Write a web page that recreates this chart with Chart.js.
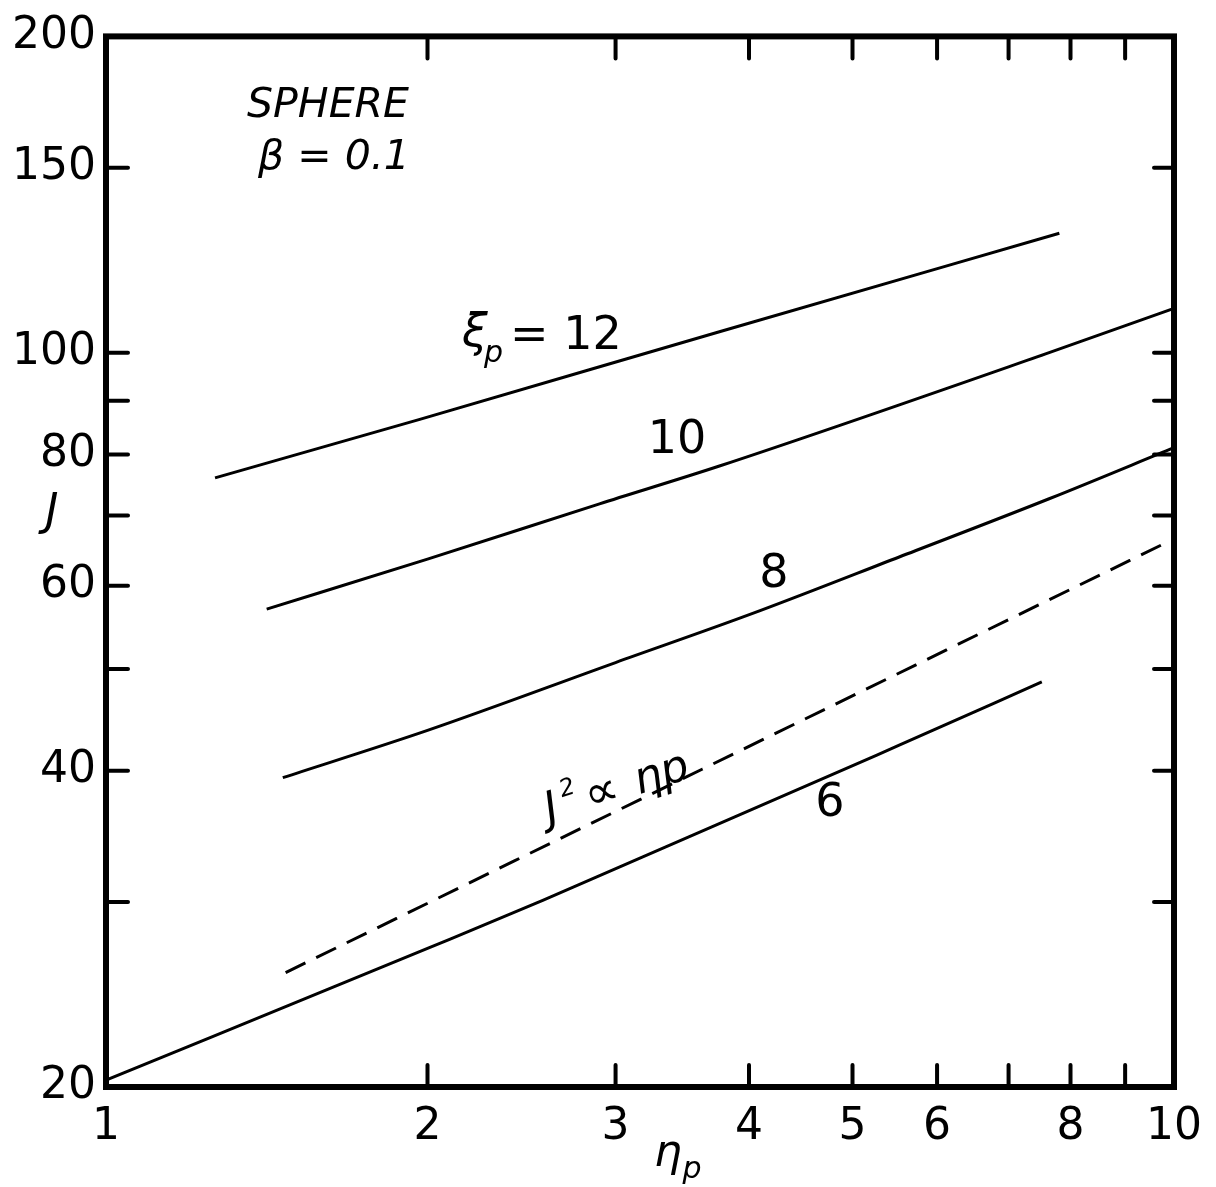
<!DOCTYPE html>
<html>
<head>
<meta charset="utf-8">
<script src="https://cdn.jsdelivr.net/npm/chart.js@4.4.1/dist/chart.umd.min.js"></script>
<style>
  html, body { margin: 0; padding: 0; background: #fff; }
</style>
</head>
<body>
<canvas id="graphique" width="1216" height="1187"></canvas>
<script>
// Ticks of both log axes
const xTicks = [1, 2, 3, 4, 5, 6, 7, 8, 9, 10];
const xLabels = [1, 2, 3, 4, 5, 6, 8, 10];
const yTicks = [20, 30, 40, 50, 60, 70, 80, 90, 100, 150, 200];
const yLabels = [20, 40, 60, 80, 100, 150, 200];

// Curves (eta_p, J)
const eta12 = [1.265, 1.967, 3.753, 7.81];
const j12 = [76.0, 86.4, 104.7, 129.9];
const eta10 = [1.414, 2.0, 2.898, 3.753, 7.64, 10];
const j10 = [57.0, 63.6, 71.8, 78.0, 100, 110.2];
const eta8 = [1.464, 2.0, 3.0, 4.02, 5.53, 7.64, 10];
const j8 = [39.4, 43.7, 50.7, 56.4, 63.9, 72.6, 81.2];
const etaSqrt = [1.473, 9.79];
const jSqrt = [25.7, 65.8];
const eta6 = [1, 2.0, 2.564, 5.53, 7.52];
const j6 = [20.3, 27.1, 30.1, 42.3, 48.6];

const INK = '#000';
const FONT = '"DejaVu Sans", sans-serif';

function pts(xs, ys) {
  return xs.map((x, i) => ({ x: x, y: ys[i] }));
}

function courbe(label, xs, ys, dash) {
  return {
    label: label,
    data: pts(xs, ys),
    showLine: true,
    borderColor: INK,
    borderWidth: 3,
    borderDash: dash || [],
    pointRadius: 0,
    cubicInterpolationMode: 'monotone',
    fill: false,
  };
}

// Frame, inward ticks and lettering
const habillage = {
  id: 'habillage',
  afterDraw(chart) {
    const { ctx, chartArea: a, scales } = chart;
    const sx = scales.x, sy = scales.y;
    ctx.save();
    ctx.strokeStyle = INK;
    ctx.fillStyle = INK;
    ctx.lineCap = 'round';

    // ticks
    ctx.lineWidth = 4;
    xTicks.slice(1, -1).forEach(v => {
      const px = sx.getPixelForValue(v);
      ctx.beginPath();
      ctx.moveTo(px, a.bottom); ctx.lineTo(px, a.bottom - 22);
      ctx.moveTo(px, a.top); ctx.lineTo(px, a.top + 22);
      ctx.stroke();
    });
    yTicks.slice(1, -1).forEach(v => {
      const py = sy.getPixelForValue(v);
      ctx.beginPath();
      ctx.moveTo(a.left, py); ctx.lineTo(a.left + 22, py);
      ctx.moveTo(a.right, py); ctx.lineTo(a.right - 20, py);
      ctx.stroke();
    });

    // frame
    ctx.lineWidth = 6;
    ctx.lineCap = 'butt';
    ctx.strokeRect(a.left, a.top, a.right - a.left, a.bottom - a.top);

    ctx.textAlign = 'center';
    ctx.textBaseline = 'middle';

    // axis titles
    ctx.font = 'italic 44px ' + FONT;
    ctx.fillText('J', 52, 514);
    ctx.fillText('η', 668, 1155);
    ctx.font = 'italic 30px ' + FONT;
    ctx.fillText('p', 692, 1170);

    // box text
    ctx.font = 'italic 41px ' + FONT;
    ctx.fillText('SPHERE', 328, 106);
    ctx.fillText('β = 0.1', 334, 158);

    // curve labels
    ctx.font = 'italic 46px ' + FONT;
    ctx.textAlign = 'left';
    ctx.fillText('ξ', 462, 334);
    ctx.font = 'italic 30px ' + FONT;
    ctx.fillText('p', 484, 354);
    ctx.font = '46px ' + FONT;
    ctx.fillText('= 12', 510, 337);
    ctx.textAlign = 'center';
    ctx.fillText('10', 677, 441);
    ctx.fillText('8', 774, 575);
    ctx.fillText('6', 830, 804);

    // rotated proportionality label
    ctx.translate(622, 788);
    ctx.rotate(-18 * Math.PI / 180);
    ctx.textAlign = 'left';
    ctx.font = 'italic 44px ' + FONT;
    ctx.fillText('J', -80, 0);
    ctx.font = 'italic 24px ' + FONT;
    ctx.fillText('2', -60, -16);
    ctx.font = '48px ' + FONT;
    ctx.fillText('∝', -38, 0);
    ctx.font = 'italic 44px ' + FONT;
    ctx.fillText('ηp', 14, 0);
    ctx.restore();
  }
};

const tickFont = { family: FONT, size: 44 };

new Chart(document.getElementById('graphique'), {
  type: 'scatter',
  data: {
    datasets: [
      courbe('ξp = 12', eta12, j12),
      courbe('ξp = 10', eta10, j10),
      courbe('ξp = 8', eta8, j8),
      courbe('J² ∝ ηp', etaSqrt, jSqrt, [22, 12]),
      courbe('ξp = 6', eta6, j6),
    ]
  },
  options: {
    responsive: false,
    devicePixelRatio: 1,
    animation: false,
    layout: { padding: { top: 30, right: 41, left: 0, bottom: 0 } },
    plugins: { legend: { display: false }, tooltip: { enabled: false } },
    scales: {
      x: {
        type: 'logarithmic',
        min: 1, max: 10,
        afterBuildTicks: s => { s.ticks = xTicks.map(v => ({ value: v })); },
        afterFit: s => { s.height = 100; },
        grid: { display: false, drawTicks: false },
        border: { display: false },
        ticks: {
          autoSkip: false, maxRotation: 0, color: INK, font: tickFont, padding: 14,
          callback: v => xLabels.includes(v) ? String(v) : ''
        }
      },
      y: {
        type: 'logarithmic',
        min: 20, max: 200,
        afterBuildTicks: s => { s.ticks = yTicks.map(v => ({ value: v })); },
        afterFit: s => { s.width = 106; },
        grid: { display: false, drawTicks: false },
        border: { display: false },
        ticks: {
          autoSkip: false, color: INK, font: tickFont, padding: 10,
          callback: v => yLabels.includes(v) ? String(v) : ''
        }
      }
    }
  },
  plugins: [habillage]
});
</script>
</body>
</html>
